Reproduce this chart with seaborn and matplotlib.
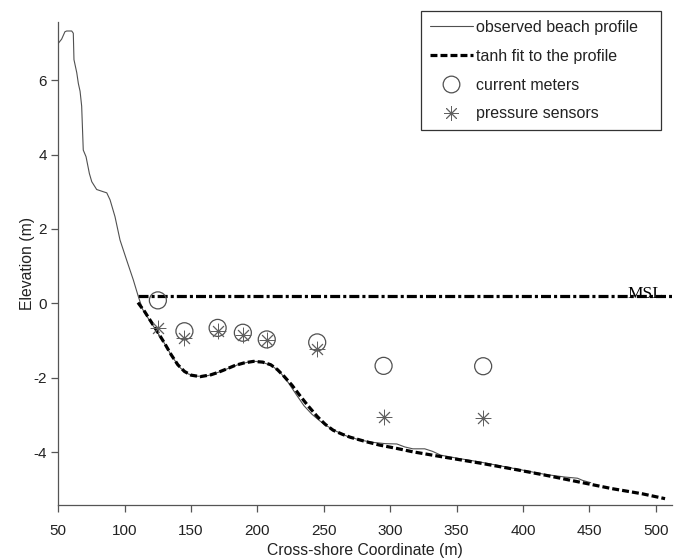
import matplotlib
matplotlib.use("Agg")
import matplotlib.pyplot as plt
import seaborn as sns
import pandas as pd
from matplotlib.lines import Line2D

# ---------------- data ----------------
obs_x = [50, 52.5, 55, 56.3, 60.1, 61.3, 61.8, 63.9, 65.1, 66.4, 67.6, 68.8, 70.9,
         73.4, 75.2, 78.9, 83.9, 86.5, 89, 92.7, 96.5, 101.5, 106.5, 110.3, 113.5,
         118, 124, 130, 136, 142, 148, 155, 163, 170, 178, 186, 193, 199, 205, 211,
         217, 223, 229, 235, 241, 247, 253, 260, 268, 278, 288, 296, 305, 311, 317,
         326, 332, 338, 350, 367, 392, 417, 432, 441, 445, 451]
obs_y = [6.99, 7.10, 7.30, 7.32, 7.32, 7.26, 6.55, 6.20, 5.91, 5.70, 5.30, 4.12, 3.94,
         3.49, 3.27, 3.06, 3.00, 2.97, 2.78, 2.33, 1.70, 1.16, 0.63, 0.18, -0.16,
         -0.42, -0.74, -1.08, -1.45, -1.74, -1.90, -1.96, -1.94, -1.86, -1.75, -1.64,
         -1.58, -1.56, -1.60, -1.68, -1.85, -2.12, -2.44, -2.75, -2.98, -3.16, -3.31,
         -3.45, -3.58, -3.68, -3.74, -3.77, -3.78, -3.86, -3.91, -3.91, -3.98, -4.08,
         -4.16, -4.26, -4.43, -4.60, -4.67, -4.70, -4.76, -4.82]

fit_x = [110, 115, 120, 125, 130, 135, 140, 145, 150, 157, 165, 170, 177, 183, 190,
         197, 204, 210, 215, 220, 226, 232, 238, 245, 251, 257, 264, 270, 282, 292,
         305, 317, 340, 367, 392, 417, 442, 467, 490, 507]
fit_y = [0.02, -0.22, -0.50, -0.78, -1.07, -1.38, -1.65, -1.83, -1.93, -1.97, -1.92,
         -1.86, -1.76, -1.67, -1.60, -1.56, -1.58, -1.65, -1.78, -1.96, -2.20, -2.48,
         -2.75, -3.04, -3.25, -3.41, -3.52, -3.60, -3.72, -3.81, -3.90, -3.99, -4.13,
         -4.29, -4.45, -4.62, -4.80, -4.98, -5.12, -5.25]

msl_x = [110, 512]
msl_y = [0.2, 0.2]

inst_x = [125, 145, 170, 189, 207, 245, 295, 370]
current_y = [0.08, -0.75, -0.66, -0.79, -0.97, -1.05, -1.68, -1.69]
pressure_y = [-0.66, -0.93, -0.75, -0.86, -0.99, -1.24, -3.05, -3.09]

legend_labels = ["observed beach profile", "tanh fit to the profile",
                 "current meters", "pressure sensors"]
x_ticks = [50, 100, 150, 200, 250, 300, 350, 400, 450, 500]
y_ticks = [-4, -2, 0, 2, 4, 6]

# ---------------- style ----------------
sns.set_theme(style="white")
plt.rcParams["font.family"] = ["Liberation Sans", "DejaVu Sans"]
plt.rcParams["lines.scale_dashes"] = False
plt.rcParams["axes.unicode_minus"] = False

fig = plt.figure(figsize=(6.83, 5.6), dpi=100)
ax = fig.add_axes([58.3 / 683, 1 - 505 / 560, (671.7 - 58.3) / 683, (505 - 21.7) / 560])

obs_df = pd.DataFrame({"x": obs_x, "y": obs_y})
fit_df = pd.DataFrame({"x": fit_x, "y": fit_y})
msl_df = pd.DataFrame({"x": msl_x, "y": msl_y})
cur_df = pd.DataFrame({"x": inst_x, "y": current_y})
prs_df = pd.DataFrame({"x": inst_x, "y": pressure_y})

grey = "#505050"
sns.lineplot(data=msl_df, x="x", y="y", ax=ax, color="black", lw=2.3, sort=False,
             estimator=None, zorder=2).lines[-1].set_dashes((7.2, 2.2, 2.2, 2.2))
sns.lineplot(data=obs_df, x="x", y="y", ax=ax, color=grey, lw=0.8, sort=False,
             estimator=None, zorder=3)
ln = sns.lineplot(data=fit_df, x="x", y="y", ax=ax, color="black", lw=2.3, sort=False,
                  estimator=None, zorder=4).lines[-1]
ln.set_dashes((5, 2.2))

sns.scatterplot(data=cur_df, x="x", y="y", ax=ax, marker="o", s=150,
                facecolors="none", edgecolor=grey, linewidth=0.9, zorder=5)
sns.scatterplot(data=prs_df, x="x", y="y", ax=ax, marker=(8, 2, 0), s=115,
                color="#606060", edgecolor="#606060", linewidth=0.65, zorder=5)

ax.text(479, 0.14, "MSL", family=["Liberation Serif", "DejaVu Serif"], fontsize=12.5,
        color="black", ha="left", va="baseline", zorder=6)

ax.set_xlim(50, 512)
ax.set_ylim(-5.42, 7.57)
ax.set_xticks(x_ticks)
ax.set_yticks(y_ticks)
ax.set_xlabel("Cross-shore Coordinate (m)", fontsize=11.3, color="#222222", labelpad=4)
ax.set_ylabel("Elevation (m)", fontsize=11.3, color="#222222", labelpad=-1)
ax.tick_params(axis="both", direction="out", length=5, width=0.9, colors="#555555",
               labelcolor="#222222", labelsize=11, bottom=True, left=True)
ax.tick_params(axis="x", pad=8.5)
ax.tick_params(axis="y", pad=3)
for s in ["top", "right"]:
    ax.spines[s].set_visible(False)
for s in ["left", "bottom"]:
    ax.spines[s].set_color("#555555")
    ax.spines[s].set_linewidth(0.9)

handles = [
    Line2D([], [], color=grey, lw=0.8),
    Line2D([], [], color="black", lw=2.3, dashes=(5, 2.2)),
    Line2D([], [], ls="none", marker="o", markersize=12, markerfacecolor="none",
           markeredgecolor=grey, markeredgewidth=0.9),
    Line2D([], [], ls="none", marker=(8, 2, 0), markersize=10.5, color="#606060",
           markeredgecolor="#606060", markeredgewidth=0.65),
]
x0, x1 = 421 / 683, 661 / 683
y0, y1 = 1 - 130 / 560, 1 - 11 / 560
leg = ax.legend(handles, legend_labels, loc="upper left",
                bbox_to_anchor=(x0, y0, x1 - x0, y1 - y0), bbox_transform=fig.transFigure,
                mode="expand", borderaxespad=0, fontsize=11.5, handlelength=2.7,
                handletextpad=0.2, labelspacing=0.87, borderpad=0.55, frameon=True,
                fancybox=False, framealpha=1)
leg.get_frame().set_edgecolor("#333333")
leg.get_frame().set_linewidth(0.9)
for t in leg.get_texts():
    t.set_color("#222222")

fig.savefig("out.png", dpi=100)
